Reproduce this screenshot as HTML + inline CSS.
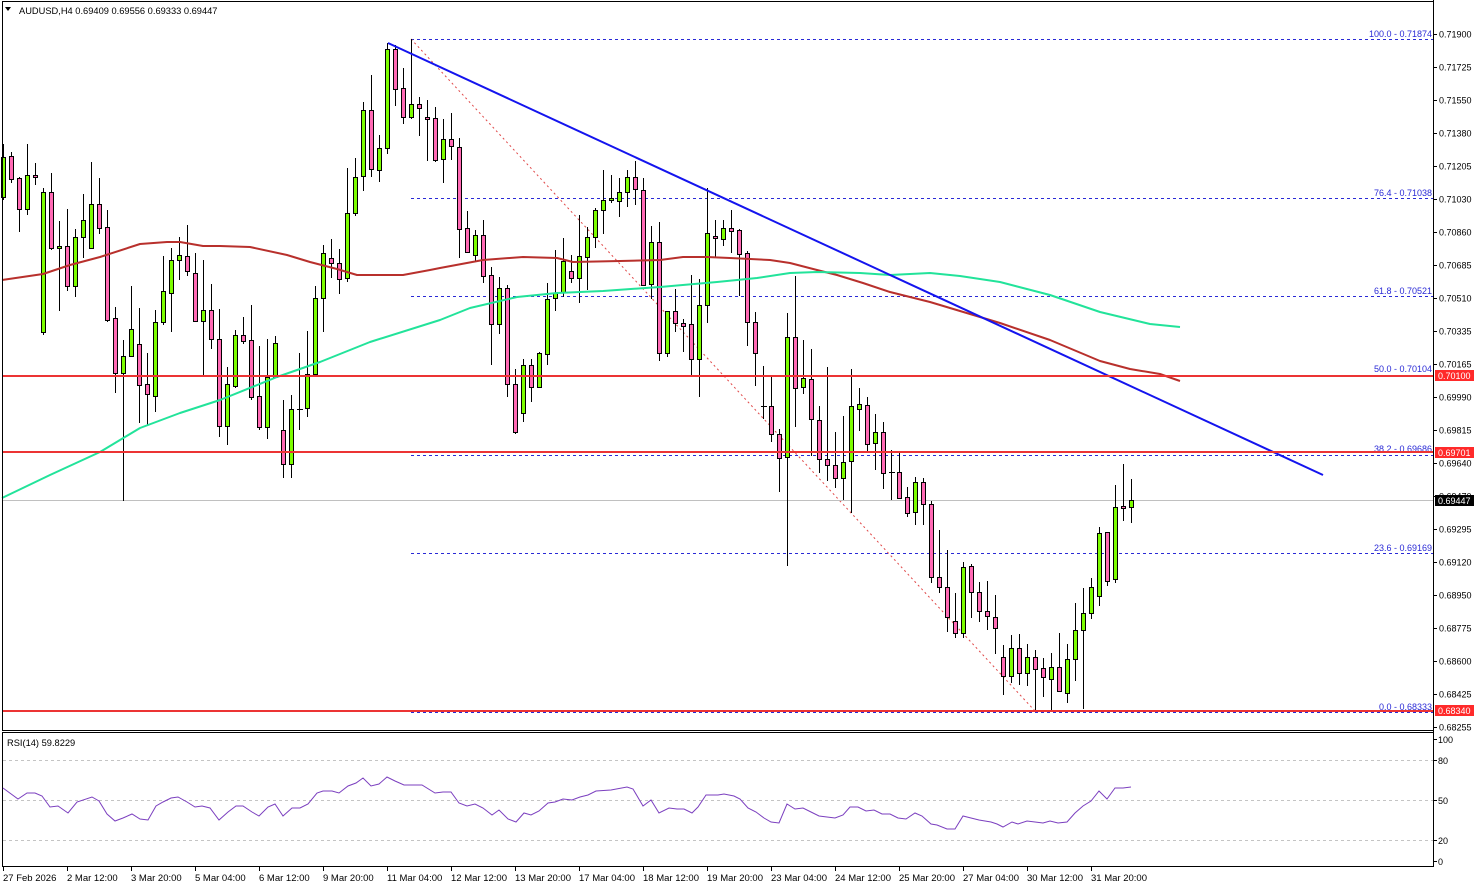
<!DOCTYPE html>
<html><head><meta charset="utf-8"><style>
html,body{margin:0;padding:0;background:#fff;}
svg{display:block;font-family:"Liberation Sans",sans-serif;}
</style></head><body>
<svg width="1479" height="888" viewBox="0 0 1479 888" xmlns="http://www.w3.org/2000/svg">
<rect x="0" y="0" width="1479" height="888" fill="#fff"/>
<!-- fib levels -->
<g stroke="#2a2ad6" stroke-width="1" stroke-dasharray="3 3" shape-rendering="crispEdges">
<line x1="411" y1="39.5" x2="1433" y2="39.5"/>
<line x1="411" y1="198.5" x2="1433" y2="198.5"/>
<line x1="411" y1="296.5" x2="1433" y2="296.5"/>
<line x1="411" y1="375.5" x2="1433" y2="375.5"/>
<line x1="411" y1="455.5" x2="1433" y2="455.5"/>
<line x1="411" y1="553.5" x2="1433" y2="553.5"/>
<line x1="411" y1="712.5" x2="1433" y2="712.5"/>
</g>
<g fill="#2a2ad6" font-size="9" text-anchor="end">
<text x="1432" y="37">100.0 - 0.71874</text>
<text x="1432" y="196">76.4 - 0.71038</text>
<text x="1432" y="294">61.8 - 0.70521</text>
<text x="1432" y="372">50.0 - 0.70104</text>
<text x="1432" y="452">38.2 - 0.69686</text>
<text x="1432" y="551">23.6 - 0.69169</text>
<text x="1432" y="710">0.0 - 0.68333</text>
</g>
<!-- fib diagonal -->
<line x1="411" y1="39" x2="1035" y2="711" stroke="#e04848" stroke-width="1" stroke-dasharray="2 3"/>
<!-- current price line -->
<line x1="2" y1="500.5" x2="1433" y2="500.5" stroke="#c0c0c0" stroke-width="1" shape-rendering="crispEdges"/>
<!-- wicks -->
<path shape-rendering="crispEdges" stroke="#000" stroke-width="1" fill="none" d="M3.5 144V200M11.5 152V183M19.5 177V232M27.5 144V215M35.5 163V185M43.5 188V335M51.5 173V250M59.5 221V311M67.5 209V291M75.5 229V297M83.5 194V258M91.5 162V248M99.5 178V234M107.5 210V322M115.5 307V393M123.5 340V501M131.5 286V357M139.5 308V423M147.5 353V425M155.5 310V412M163.5 256V325M171.5 248V332M179.5 237V280M187.5 225V276M195.5 253V322M203.5 260V375M211.5 284V349M219.5 309V437M227.5 367V445M235.5 330V388M243.5 317V344M251.5 305V400M259.5 346V430M267.5 339V439M275.5 336V377M283.5 400V478M291.5 395V478M299.5 353V430M307.5 331V417M315.5 286V375M323.5 245V332M331.5 239V278M339.5 249V294M347.5 168V282M355.5 158V216M363.5 102V191M371.5 75V177M379.5 135V182M387.5 43V154M395.5 45V106M403.5 68V124M411.5 39V119M419.5 97V136M427.5 100V161M435.5 107V162M443.5 119V183M451.5 113V160M459.5 138V258M467.5 211V253M475.5 230V261M483.5 220V283M491.5 267V365M499.5 277V334M507.5 285V397M515.5 369V434M523.5 359V422M531.5 359V402M539.5 352V387M547.5 283V365M555.5 250V311M563.5 238V297M571.5 255V283M579.5 215V303M587.5 227V290M595.5 208V248M603.5 170V234M611.5 175V203M619.5 178V217M627.5 170V207M635.5 161V205M643.5 178V286M651.5 226V299M659.5 222V361M667.5 311V357M675.5 289V332M683.5 319V352M691.5 275V375M699.5 279V397M707.5 188V323M715.5 220V257M723.5 220V246M731.5 210V253M739.5 229V296M747.5 251V346M755.5 312V386M763.5 366V419M771.5 377V442M779.5 429V492M787.5 313V566M795.5 276V427M803.5 340V394M811.5 349V456M819.5 406V473M827.5 367V481M835.5 432V488M843.5 416V500M851.5 369V513M859.5 388V431M867.5 397V453M875.5 414V470M883.5 422V489M891.5 450V500M899.5 453V499M907.5 487V517M915.5 477V525M923.5 478V525M931.5 501V583M939.5 530V593M947.5 550V632M955.5 593V638M963.5 562V638M971.5 564V618M979.5 582V622M987.5 581V630M995.5 595V654M1003.5 645V695M1011.5 635V683M1019.5 634V685M1027.5 644V686M1035.5 650V710M1043.5 658V697M1051.5 653V710M1059.5 633V692M1067.5 644V703M1075.5 603V681M1083.5 588V709M1091.5 578V619M1099.5 527V606M1107.5 532V586M1115.5 485V583M1123.5 464V521M1131.5 479V523M297 409.5H303M761 406.5H767M889 472.5H895"/>
<!-- green bodies -->
<g fill="#7cfc00" stroke="#000" stroke-width="1" shape-rendering="crispEdges">
<rect x="1.5" y="157.5" width="4" height="40"/>
<rect x="25.5" y="175.5" width="4" height="34"/>
<rect x="41.5" y="192.5" width="4" height="140"/>
<rect x="57.5" y="246.5" width="4" height="2"/>
<rect x="73.5" y="237.5" width="4" height="49"/>
<rect x="81.5" y="220.5" width="4" height="17"/>
<rect x="89.5" y="204.5" width="4" height="44"/>
<rect x="121.5" y="356.5" width="4" height="17"/>
<rect x="129.5" y="329.5" width="4" height="27"/>
<rect x="153.5" y="322.5" width="4" height="74"/>
<rect x="161.5" y="291.5" width="4" height="31"/>
<rect x="169.5" y="260.5" width="4" height="33"/>
<rect x="177.5" y="255.5" width="4" height="5"/>
<rect x="201.5" y="310.5" width="4" height="11"/>
<rect x="225.5" y="384.5" width="4" height="42"/>
<rect x="233.5" y="335.5" width="4" height="51"/>
<rect x="265.5" y="377.5" width="4" height="50"/>
<rect x="273.5" y="343.5" width="4" height="34"/>
<rect x="289.5" y="409.5" width="4" height="55"/>
<rect x="305.5" y="374.5" width="4" height="34"/>
<rect x="313.5" y="298.5" width="4" height="76"/>
<rect x="321.5" y="253.5" width="4" height="45"/>
<rect x="345.5" y="213.5" width="4" height="65"/>
<rect x="353.5" y="177.5" width="4" height="36"/>
<rect x="361.5" y="110.5" width="4" height="66"/>
<rect x="377.5" y="148.5" width="4" height="22"/>
<rect x="385.5" y="49.5" width="4" height="99"/>
<rect x="409.5" y="104.5" width="4" height="13"/>
<rect x="441.5" y="139.5" width="4" height="20"/>
<rect x="473.5" y="235.5" width="4" height="20"/>
<rect x="497.5" y="288.5" width="4" height="36"/>
<rect x="521.5" y="365.5" width="4" height="48"/>
<rect x="537.5" y="353.5" width="4" height="34"/>
<rect x="545.5" y="299.5" width="4" height="55"/>
<rect x="553.5" y="293.5" width="4" height="5"/>
<rect x="561.5" y="261.5" width="4" height="31"/>
<rect x="577.5" y="256.5" width="4" height="22"/>
<rect x="585.5" y="237.5" width="4" height="20"/>
<rect x="593.5" y="210.5" width="4" height="27"/>
<rect x="601.5" y="200.5" width="4" height="10"/>
<rect x="609.5" y="198.5" width="4" height="2"/>
<rect x="617.5" y="192.5" width="4" height="9"/>
<rect x="625.5" y="177.5" width="4" height="15"/>
<rect x="649.5" y="242.5" width="4" height="42"/>
<rect x="665.5" y="311.5" width="4" height="42"/>
<rect x="697.5" y="305.5" width="4" height="54"/>
<rect x="705.5" y="233.5" width="4" height="72"/>
<rect x="721.5" y="228.5" width="4" height="11"/>
<rect x="785.5" y="337.5" width="4" height="120"/>
<rect x="801.5" y="378.5" width="4" height="9"/>
<rect x="841.5" y="462.5" width="4" height="16"/>
<rect x="849.5" y="406.5" width="4" height="55"/>
<rect x="857.5" y="404.5" width="4" height="5"/>
<rect x="873.5" y="432.5" width="4" height="11"/>
<rect x="913.5" y="482.5" width="4" height="30"/>
<rect x="961.5" y="567.5" width="4" height="66"/>
<rect x="1009.5" y="648.5" width="4" height="28"/>
<rect x="1025.5" y="657.5" width="4" height="16"/>
<rect x="1049.5" y="667.5" width="4" height="12"/>
<rect x="1065.5" y="659.5" width="4" height="34"/>
<rect x="1073.5" y="630.5" width="4" height="29"/>
<rect x="1081.5" y="613.5" width="4" height="17"/>
<rect x="1089.5" y="587.5" width="4" height="26"/>
<rect x="1097.5" y="533.5" width="4" height="63"/>
<rect x="1113.5" y="507.5" width="4" height="72"/>
<rect x="1129.5" y="500.5" width="4" height="7"/>
</g>
<!-- pink bodies -->
<g fill="#ff69b4" stroke="#000" stroke-width="1" shape-rendering="crispEdges">
<rect x="9.5" y="156.5" width="4" height="23"/>
<rect x="17.5" y="178.5" width="4" height="31"/>
<rect x="33.5" y="175.5" width="4" height="2"/>
<rect x="49.5" y="192.5" width="4" height="56"/>
<rect x="65.5" y="246.5" width="4" height="40"/>
<rect x="97.5" y="204.5" width="4" height="24"/>
<rect x="105.5" y="227.5" width="4" height="93"/>
<rect x="113.5" y="318.5" width="4" height="55"/>
<rect x="137.5" y="344.5" width="4" height="41"/>
<rect x="145.5" y="384.5" width="4" height="10"/>
<rect x="185.5" y="256.5" width="4" height="15"/>
<rect x="193.5" y="273.5" width="4" height="48"/>
<rect x="209.5" y="310.5" width="4" height="29"/>
<rect x="217.5" y="339.5" width="4" height="87"/>
<rect x="241.5" y="335.5" width="4" height="6"/>
<rect x="249.5" y="340.5" width="4" height="57"/>
<rect x="257.5" y="396.5" width="4" height="31"/>
<rect x="281.5" y="430.5" width="4" height="34"/>
<rect x="329.5" y="258.5" width="4" height="5"/>
<rect x="337.5" y="263.5" width="4" height="16"/>
<rect x="369.5" y="110.5" width="4" height="59"/>
<rect x="393.5" y="49.5" width="4" height="40"/>
<rect x="401.5" y="88.5" width="4" height="29"/>
<rect x="417.5" y="104.5" width="4" height="4"/>
<rect x="425.5" y="117.5" width="4" height="2"/>
<rect x="433.5" y="118.5" width="4" height="42"/>
<rect x="449.5" y="139.5" width="4" height="7"/>
<rect x="457.5" y="147.5" width="4" height="82"/>
<rect x="465.5" y="228.5" width="4" height="24"/>
<rect x="481.5" y="235.5" width="4" height="41"/>
<rect x="489.5" y="275.5" width="4" height="49"/>
<rect x="505.5" y="288.5" width="4" height="96"/>
<rect x="513.5" y="384.5" width="4" height="48"/>
<rect x="529.5" y="365.5" width="4" height="22"/>
<rect x="569.5" y="271.5" width="4" height="7"/>
<rect x="633.5" y="177.5" width="4" height="12"/>
<rect x="641.5" y="190.5" width="4" height="95"/>
<rect x="657.5" y="242.5" width="4" height="111"/>
<rect x="673.5" y="311.5" width="4" height="12"/>
<rect x="681.5" y="323.5" width="4" height="3"/>
<rect x="689.5" y="324.5" width="4" height="35"/>
<rect x="713.5" y="236.5" width="4" height="2"/>
<rect x="729.5" y="228.5" width="4" height="3"/>
<rect x="737.5" y="230.5" width="4" height="24"/>
<rect x="745.5" y="253.5" width="4" height="69"/>
<rect x="753.5" y="322.5" width="4" height="31"/>
<rect x="769.5" y="406.5" width="4" height="28"/>
<rect x="777.5" y="434.5" width="4" height="24"/>
<rect x="793.5" y="337.5" width="4" height="51"/>
<rect x="809.5" y="379.5" width="4" height="40"/>
<rect x="817.5" y="420.5" width="4" height="39"/>
<rect x="825.5" y="459.5" width="4" height="6"/>
<rect x="833.5" y="465.5" width="4" height="13"/>
<rect x="865.5" y="405.5" width="4" height="39"/>
<rect x="881.5" y="432.5" width="4" height="41"/>
<rect x="897.5" y="472.5" width="4" height="26"/>
<rect x="905.5" y="497.5" width="4" height="16"/>
<rect x="921.5" y="482.5" width="4" height="22"/>
<rect x="929.5" y="504.5" width="4" height="73"/>
<rect x="937.5" y="577.5" width="4" height="10"/>
<rect x="945.5" y="587.5" width="4" height="30"/>
<rect x="953.5" y="621.5" width="4" height="12"/>
<rect x="969.5" y="566.5" width="4" height="26"/>
<rect x="977.5" y="592.5" width="4" height="19"/>
<rect x="985.5" y="611.5" width="4" height="5"/>
<rect x="993.5" y="617.5" width="4" height="11"/>
<rect x="1001.5" y="657.5" width="4" height="19"/>
<rect x="1017.5" y="648.5" width="4" height="25"/>
<rect x="1033.5" y="657.5" width="4" height="12"/>
<rect x="1041.5" y="668.5" width="4" height="9"/>
<rect x="1057.5" y="667.5" width="4" height="24"/>
<rect x="1105.5" y="532.5" width="4" height="49"/>
<rect x="1121.5" y="506.5" width="4" height="2"/>
</g>
<!-- moving averages -->
<polyline fill="none" stroke="#b8302c" stroke-width="2" stroke-linejoin="round" points="2,280 43,274 70,265 100,257 140,244 167,242 180,242 203,246 220,246 250,247 287,255 310,262 337,269 357,275 403,275 430,270 440,268 483,260 523,257 557,258 573,262 620,261 660,260 683,257 707,257 730,258 770,260 790,263 817,270 837,275 863,283 890,292 930,302 960,311 1000,323 1050,340 1100,361 1130,369 1160,374 1180,381"/>
<polyline fill="none" stroke="#22e39a" stroke-width="2" stroke-linejoin="round" points="2,498 50,475 100,452 140,428 180,413 220,400 277,377 320,362 370,342 440,320 470,308 517,297 557,293 603,291 660,287 717,282 757,278 790,273 817,272 860,273 890,275 930,273 960,276 1000,282 1050,295 1100,312 1150,324 1180,327"/>
<!-- trendline -->
<line x1="388" y1="43" x2="1323" y2="475" stroke="#1414ee" stroke-width="2"/>
<!-- red horizontal levels -->
<g stroke="#ec3434" stroke-width="2">
<line x1="2" y1="376" x2="1433" y2="376"/>
<line x1="2" y1="452" x2="1433" y2="452"/>
<line x1="2" y1="711" x2="1433" y2="711"/>
</g>
<!-- panel borders -->
<g fill="none" stroke="#000" stroke-width="1" shape-rendering="crispEdges">
<rect x="2.5" y="1.5" width="1431" height="729"/>
<rect x="2.5" y="732.5" width="1431" height="134"/>
<line x1="1433.5" y1="0" x2="1433.5" y2="867"/>
</g>
<!-- price axis ticks -->
<path shape-rendering="crispEdges" stroke="#000" stroke-width="1" d="M1433 34.5h4M1433 67.5h4M1433 100.5h4M1433 133.5h4M1433 166.5h4M1433 199.5h4M1433 232.5h4M1433 265.5h4M1433 298.5h4M1433 331.5h4M1433 364.5h4M1433 397.5h4M1433 430.5h4M1433 463.5h4M1433 496.5h4M1433 529.5h4M1433 562.5h4M1433 595.5h4M1433 628.5h4M1433 661.5h4M1433 694.5h4M1433 727.5h4M1433 739.5h4M1433 760.5h4M1433 800.5h4M1433 840.5h4M1433 861.5h4"/>
<g fill="#000" font-size="9">
<text x="1439" y="37.5">0.71900</text>
<text x="1439" y="70.5">0.71725</text>
<text x="1439" y="103.5">0.71550</text>
<text x="1439" y="136.5">0.71380</text>
<text x="1439" y="169.5">0.71205</text>
<text x="1439" y="202.5">0.71030</text>
<text x="1439" y="235.5">0.70860</text>
<text x="1439" y="268.5">0.70685</text>
<text x="1439" y="301.5">0.70510</text>
<text x="1439" y="334.5">0.70335</text>
<text x="1439" y="367.5">0.70165</text>
<text x="1439" y="400.5">0.69990</text>
<text x="1439" y="433.5">0.69815</text>
<text x="1439" y="466.5">0.69640</text>
<text x="1439" y="499.5">0.69470</text>
<text x="1439" y="532.5">0.69295</text>
<text x="1439" y="565.5">0.69120</text>
<text x="1439" y="598.5">0.68950</text>
<text x="1439" y="631.5">0.68775</text>
<text x="1439" y="664.5">0.68600</text>
<text x="1439" y="697.5">0.68425</text>
<text x="1439" y="730.5">0.68255</text>
<text x="1438" y="743">100</text>
<text x="1438" y="764">80</text>
<text x="1438" y="804">50</text>
<text x="1438" y="844">20</text>
<text x="1438" y="865">0</text>
</g>
<!-- price tags -->
<rect x="1435" y="370" width="39" height="11" fill="#ff2a2a"/>
<rect x="1435" y="447" width="39" height="11" fill="#ff2a2a"/>
<rect x="1435" y="705" width="39" height="11" fill="#ff2a2a"/>
<rect x="1435" y="495" width="39" height="11" fill="#000"/>
<g fill="#fff" font-size="9">
<text x="1438" y="379">0.70100</text>
<text x="1438" y="456">0.69701</text>
<text x="1438" y="714">0.68340</text>
<text x="1438" y="504">0.69447</text>
</g>
<!-- header -->
<path d="M5 7h6l-3 4z" fill="#000"/>
<text x="19" y="14" font-size="9.3" fill="#000">AUDUSD,H4  0.69409 0.69556 0.69333 0.69447</text>
<!-- RSI -->
<g stroke="#c4c4c4" stroke-width="1" stroke-dasharray="3 3" shape-rendering="crispEdges">
<line x1="3" y1="760.5" x2="1433" y2="760.5"/>
<line x1="3" y1="800.5" x2="1433" y2="800.5"/>
<line x1="3" y1="840.5" x2="1433" y2="840.5"/>
</g>
<text x="7" y="746" font-size="9.3" fill="#000">RSI(14) 59.8229</text>
<polyline fill="none" stroke="#7b3fbf" stroke-width="1" points="3,788 18,799 27,793 35,793 42,796 50,807 58,806 68,813 77,802 92,797 99,801 107,814 115,821 123,818 132,814 140,819 148,820 156,806 163,802 171,798 178,797 187,802 195,807 202,806 210,808 219,820 228,812 236,806 243,806 252,812 259,816 268,807 275,804 283,816 292,808 300,808 308,804 317,793 323,791 332,791 339,793 348,786 356,783 363,778 371,786 379,784 387,777 395,781 404,785 422,785 435,793 443,792 451,792 459,803 467,806 475,804 483,808 492,815 499,810 508,819 516,822 524,813 531,815 539,811 548,803 555,802 563,799 572,800 580,797 588,795 596,791 611,790 627,787 633,789 643,806 651,800 659,813 669,808 677,809 684,809 692,813 698,807 706,795 718,795 724,794 734,796 740,799 748,808 756,812 764,818 771,822 779,823 787,804 795,809 803,808 811,812 819,816 827,817 835,818 843,815 850,807 858,807 866,811 874,810 882,814 890,814 898,818 906,819 915,813 922,816 931,824 937,825 947,829 955,829 963,816 971,818 979,820 991,822 997,824 1003,827 1012,822 1018,824 1027,821 1035,822 1043,823 1050,821 1058,823 1067,822 1075,813 1083,806 1091,801 1099,791 1107,799 1115,788 1123,788 1131,787"/>
<!-- time axis -->
<path shape-rendering="crispEdges" stroke="#000" stroke-width="1" d="M3.5 867v4M67.5 867v4M131.5 867v4M195.5 867v4M259.5 867v4M323.5 867v4M387.5 867v4M451.5 867v4M515.5 867v4M579.5 867v4M643.5 867v4M707.5 867v4M771.5 867v4M835.5 867v4M899.5 867v4M963.5 867v4M1027.5 867v4M1091.5 867v4"/>
<g fill="#000" font-size="9.5">
<text x="3" y="881">27 Feb 2026</text>
<text x="67" y="881">2 Mar 12:00</text>
<text x="131" y="881">3 Mar 20:00</text>
<text x="195" y="881">5 Mar 04:00</text>
<text x="259" y="881">6 Mar 12:00</text>
<text x="323" y="881">9 Mar 20:00</text>
<text x="387" y="881">11 Mar 04:00</text>
<text x="451" y="881">12 Mar 12:00</text>
<text x="515" y="881">13 Mar 20:00</text>
<text x="579" y="881">17 Mar 04:00</text>
<text x="643" y="881">18 Mar 12:00</text>
<text x="707" y="881">19 Mar 20:00</text>
<text x="771" y="881">23 Mar 04:00</text>
<text x="835" y="881">24 Mar 12:00</text>
<text x="899" y="881">25 Mar 20:00</text>
<text x="963" y="881">27 Mar 04:00</text>
<text x="1027" y="881">30 Mar 12:00</text>
<text x="1091" y="881">31 Mar 20:00</text>
</g>
</svg>
</body></html>
